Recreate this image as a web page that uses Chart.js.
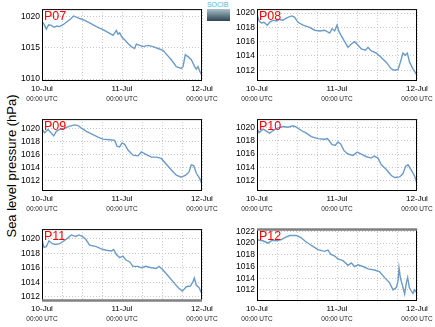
<!DOCTYPE html>
<html>
<head>
<meta charset="utf-8">
<script src="https://cdn.jsdelivr.net/npm/chart.js@4.4.1/dist/chart.umd.min.js"></script>
<style>
  body { margin: 0; background: #fff; width: 435px; height: 327px; overflow: hidden; position: relative;
         font-family: "Liberation Sans", Arial, sans-serif; }
  canvas { position: absolute; }
  #ytitle { position: absolute; left: 11px; top: 166px; transform: translate(-50%, -50%) rotate(-90deg);
            font-size: 13px; white-space: nowrap; color: #000; }
  #logo { position: absolute; left: 207px; top: 2px; width: 23px; }
  #logo span { display: block; font-size: 7px; line-height: 6px; color: #3cc0d8; letter-spacing: -0.1px; }
  #logo div { height: 12px; margin-top: 1px; background: linear-gradient(#a9c0cc, #2e4452); }
</style>
</head>
<body>
<div id="ytitle">Sea level pressure (hPa)</div>
<div id="logo"><span>SOCIB</span><div></div></div>

<script>
// x ticks, one label per day
const dayLabels = ['10-Jul', '11-Jul', '12-Jul'];
const utcLabel = '00:00 UTC';

// hours since 10-Jul 00:00 UTC and sea level pressure (hPa) per station
const p07Hours = [0,0.6,1.3,2,2.8,3.6,4.5,5.3,6.3,7.3,8.3,9.5,10.8,12.3,14.3,16.3,18.3,20.3,21.3,21.8,22.3,22.8,23.3,24,24.8,25.8,26.8,27.8,28.3,29.3,30.3,31.8,33.3,34.8,36.3,37.3,38.8,40.3,41.8,42.3,43,43.8,44.8,45.8,46.3,46.8,47.3,48];
const p07Values = [1019.2,1018.8,1018.0,1018.7,1018.6,1018.3,1018.5,1018.4,1018.7,1019.1,1019.5,1020.1,1019.8,1019.5,1019.0,1018.4,1017.9,1017.3,1017.0,1017.4,1017.8,1017.2,1017.4,1016.7,1016.3,1015.7,1015.2,1014.9,1015.6,1015.4,1015.2,1015.4,1015.2,1014.9,1014.6,1014.0,1013.1,1012.0,1011.7,1012.0,1013.9,1013.6,1013.1,1012.0,1011.6,1012.0,1011.3,1010.6];

const p08Hours = [0,0.6,1.3,2.1,3.1,3.8,4.8,5.8,6.8,7.8,8.8,9.8,10.5,11.3,12.3,13.8,15.8,17.3,18.8,20.3,21.8,22.5,23.3,24,24.5,25.3,26.3,27.3,28.1,29.3,30.3,31.3,32.5,33.3,34.3,35.8,37.3,38.8,40.3,41.3,42.3,43,43.8,44.5,45.1,45.8,46.8,48];
const p08Values = [1019.9,1018.9,1018.6,1018.7,1018.3,1018.7,1019.0,1018.9,1019.1,1019.0,1019.3,1019.5,1019.6,1019.4,1018.7,1018.3,1018.0,1017.6,1017.5,1017.6,1017.2,1017.8,1017.5,1018.3,1017.5,1016.8,1016.0,1015.2,1015.6,1016.0,1015.5,1015.0,1014.8,1015.2,1014.7,1014.4,1013.8,1013.1,1012.2,1012.0,1012.1,1013.1,1014.4,1014.1,1014.4,1013.1,1012.2,1011.3];

const p09Hours = [0,0.8,1.8,2.5,3.5,4.3,5.3,6.8,8.3,9.8,10.8,11.8,13.3,15.3,16.8,18.3,20.3,21.8,22.5,23.3,24,24.8,25.8,27.3,28.8,29.8,31.3,32.8,34.3,35.8,37.3,38.8,40.3,41.8,43.1,44.1,44.8,45.5,46.3,47.3,48];
const p09Values = [1019.9,1019.4,1019.9,1019.5,1018.9,1019.6,1019.9,1020.1,1020.4,1020.6,1020.5,1020.1,1019.6,1019.1,1018.7,1018.4,1018.3,1018.2,1017.3,1017.2,1017.8,1017.6,1016.7,1015.9,1015.8,1016.4,1016.0,1015.6,1015.6,1015.4,1014.5,1013.6,1012.8,1012.5,1012.8,1013.3,1014.4,1014.3,1013.1,1012.3,1011.4];

const p10Hours = [0,0.6,1.8,2.8,3.8,4.8,6.3,7.8,9.3,10.8,11.8,13.3,14.8,16.3,18.3,20.3,21.1,21.8,22.5,23.5,24.3,25.1,26.1,27.3,28.8,30.1,31.3,32.8,34.3,35.1,36.3,37.3,38.8,40.3,41.3,42.8,43.8,44.6,45.3,46.3,47.3,48];
const p10Values = [1019.8,1019.2,1019.7,1019.4,1019.1,1019.5,1019.9,1020.1,1020.0,1020.2,1020.0,1019.5,1019.1,1018.6,1018.3,1018.2,1018.3,1017.9,1017.4,1017.3,1017.8,1017.5,1016.5,1016.0,1015.8,1016.3,1016.0,1015.6,1015.4,1015.7,1015.4,1014.4,1013.7,1012.8,1012.5,1012.6,1013.1,1014.2,1014.4,1013.6,1012.7,1011.6];

const p11Hours = [0,0.6,1.3,2.1,3.1,4.1,5.3,6.3,7.8,8.8,10.1,11.1,12.1,13.1,14.3,16.3,17.8,19.3,20.8,21.5,22.3,23.3,24.3,25.1,26.3,27.3,28.8,29.8,31.1,32.8,34.3,35.1,36.3,37.8,39.3,40.8,42.1,43.3,44.5,45.3,45.7,46.3,47.1,48];
const p11Values = [1019.8,1018.8,1018.9,1019.7,1019.3,1019.2,1019.3,1019.6,1020.1,1020.5,1020.3,1020.5,1020.3,1019.9,1019.1,1018.9,1018.6,1018.4,1018.3,1018.5,1017.8,1017.4,1017.6,1017.1,1016.8,1016.2,1016.2,1016.0,1016.2,1016.0,1015.9,1016.2,1015.7,1014.9,1014.1,1013.3,1012.8,1013.4,1013.5,1014.1,1014.6,1013.6,1013.3,1012.4];

const p12Hours = [0,0.8,1.8,3.3,4.5,5.8,7.3,8.5,9.8,11.8,13.1,14.3,16.3,18.3,20.3,21.3,22.1,23.3,24.3,25.8,27.3,28.3,29.3,30.3,31.8,33.3,35.3,36.8,38.3,39.8,40.8,41.8,42.3,42.6,43,43.8,44.3,44.8,45.2,45.7,46.3,46.8,47.3,48];
const p12Values = [1020.6,1020.5,1020.4,1020.0,1020.5,1020.4,1020.6,1021.0,1021.3,1021.3,1021.0,1020.4,1019.6,1018.9,1018.6,1018.8,1018.1,1017.8,1017.3,1017.0,1016.2,1016.6,1016.0,1016.3,1016.0,1015.6,1015.4,1015.1,1014.1,1013.2,1012.0,1012.4,1013.5,1015.8,1014.1,1012.4,1011.3,1013.2,1014.1,1012.4,1011.8,1011.4,1012.0,1011.5];

// panel placement (plot area top-left) and y scale limits
const panels = [
  { name: 'P07', hours: p07Hours, values: p07Values, x: 42,  y: 8,   min: 1009.7,  max: 1021.2,  step: 5 },
  { name: 'P08', hours: p08Hours, values: p08Values, x: 257, y: 8,   min: 1010.5,  max: 1020.55, step: 2 },
  { name: 'P09', hours: p09Hours, values: p09Values, x: 42,  y: 118, min: 1010.35, max: 1021.5,  step: 2 },
  { name: 'P10', hours: p10Hours, values: p10Values, x: 257, y: 118, min: 1010.5,  max: 1021.2,  step: 2 },
  { name: 'P11', hours: p11Hours, values: p11Values, x: 42,  y: 228, min: 1011.45, max: 1021.3,  step: 2, edge: 'bottom' },
  { name: 'P12', hours: p12Hours, values: p12Values, x: 257, y: 228, min: 1010.1,  max: 1022.4,  step: 2, edge: 'top' }
];

const PAD_TOP = 6, Y_W = 24, RIGHT = 18, PLOT_W = 160, PLOT_H = 73, X_H = 22;
const FONT = '"Liberation Sans", Arial, sans-serif';
const GRID = '#c6c6c6';

// box around the plot area, station name, and the time line under each day tick
const framePlugin = {
  id: 'frame',
  afterDraw(chart, args, opts) {
    const { ctx, chartArea: a } = chart;
    const xs = chart.scales.x;
    ctx.save();
    ctx.strokeStyle = '#000';
    ctx.lineWidth = 1;
    ctx.strokeRect(a.left + 0.5, a.top + 0.5, a.width - 1, a.height - 1);
    if (opts.edge) {
      ctx.strokeStyle = '#808080';
      ctx.lineWidth = 2.5;
      const yy = opts.edge === 'top' ? a.top + 0.5 : a.bottom - 0.5;
      ctx.beginPath();
      ctx.moveTo(a.left, yy);
      ctx.lineTo(a.right, yy);
      ctx.stroke();
    }
    ctx.fillStyle = '#ff0000';
    ctx.font = '12.5px ' + FONT;
    ctx.textBaseline = 'top';
    ctx.textAlign = 'left';
    ctx.fillText(opts.label, a.left + 2, a.top + 1);

    ctx.fillStyle = '#222';
    ctx.font = '6.5px ' + FONT;
    ctx.textAlign = 'center';
    ctx.textBaseline = 'middle';
    dayLabels.forEach((d, i) => {
      ctx.fillText(utcLabel, xs.getPixelForValue(i * 24), a.bottom + 18);
    });
    ctx.restore();
  }
};

panels.forEach(p => {
  const canvas = document.createElement('canvas');
  const w = Y_W + PLOT_W + RIGHT, h = PAD_TOP + PLOT_H + X_H;
  canvas.width = w;
  canvas.height = h;
  canvas.style.left = (p.x - Y_W) + 'px';
  canvas.style.top = (p.y - PAD_TOP) + 'px';
  canvas.style.width = w + 'px';
  canvas.style.height = h + 'px';
  document.body.appendChild(canvas);

  const dayTick = v => (v % 24 === 0 ? dayLabels[v / 24] : '');

  new Chart(canvas.getContext('2d'), {
    type: 'line',
    data: {
      datasets: [{
        data: p.hours.map((t, i) => ({ x: t, y: p.values[i] })),
        borderColor: '#6b9bc8',
        borderWidth: 1.4,
        pointRadius: 0,
        tension: 0,
        fill: false
      }]
    },
    options: {
      responsive: false,
      animation: false,
      events: [],
      layout: { padding: { top: PAD_TOP, right: RIGHT, left: 0, bottom: 0 } },
      plugins: {
        legend: { display: false },
        tooltip: { enabled: false },
        frame: { label: p.name, edge: p.edge }
      },
      scales: {
        x: {
          type: 'linear',
          min: 0,
          max: 48,
          afterFit: s => { s.height = X_H; },
          grid: { color: GRID, drawTicks: false, lineWidth: 1 },
          border: { display: false, dash: [1, 2] },
          ticks: {
            stepSize: 6,
            autoSkip: false,
            maxRotation: 0,
            padding: 3,
            color: '#000',
            font: { family: FONT, size: 8 },
            callback: dayTick
          }
        },
        y: {
          min: p.min,
          max: p.max,
          afterFit: s => { s.width = Y_W; },
          grid: { color: GRID, drawTicks: false, lineWidth: 1 },
          border: { display: false, dash: [1, 2] },
          ticks: {
            stepSize: p.step,
            includeBounds: false,
            padding: 2,
            color: '#000',
            font: { family: FONT, size: 8.5 },
            callback: v => String(v)
          }
        }
      }
    },
    plugins: [framePlugin]
  });
});
</script>
</body>
</html>
